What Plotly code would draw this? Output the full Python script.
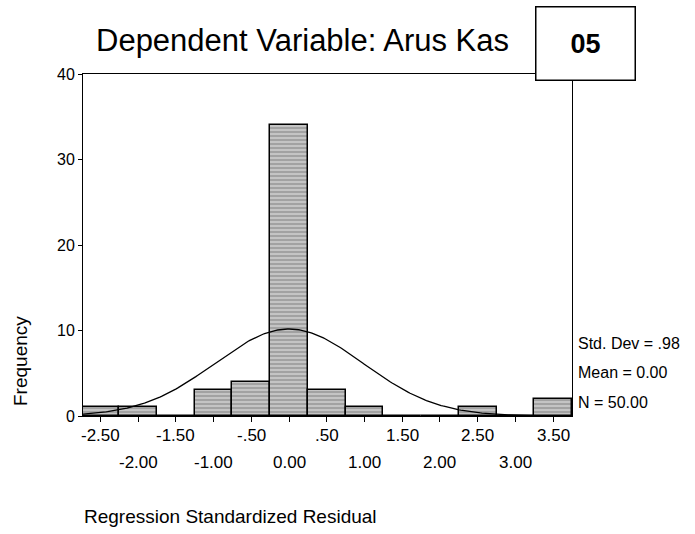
import numpy as np
import plotly.graph_objects as go

# Data
bin_centers = [-2.5, -2.0, -1.5, -1.0, -0.5, 0.0, 0.5, 1.0, 1.5, 2.0, 2.5, 3.0, 3.5]
frequencies = [1, 1, 0, 3, 4, 34, 3, 1, 0, 0, 1, 0, 2]
bin_width = 0.5
std_dev = 0.98
mean = 0.00
n_obs = 50
x_tickvals = [-2.5, -2.0, -1.5, -1.0, -0.5, 0.0, 0.5, 1.0, 1.5, 2.0, 2.5, 3.0, 3.5]
x_ticklabels = ["-2.50", "-2.00", "-1.50", "-1.00", "-.50", "0.00", ".50", "1.00",
                "1.50", "2.00", "2.50", "3.00", "3.50"]
y_tickvals = [0, 10, 20, 30, 40]
stats_lines = ["Std. Dev = .98", "Mean = 0.00", "N = 50.00"]

FONT = "Arial, Liberation Sans, sans-serif"
x_range = [-2.73, 3.75]
PH = 342  # plot height px
PW = 489  # plot width px

fig = go.Figure()
fig.add_trace(go.Bar(
    x=bin_centers, y=frequencies, width=bin_width,
    marker=dict(color="#c4c4c4", line=dict(color="black", width=1.5),
                pattern=dict(shape="-", fgcolor="#6e6e6e", size=4, solidity=0.4)),
    showlegend=False, hoverinfo="x+y"))

xc = np.linspace(x_range[0], x_range[1], 300)
yc = n_obs * bin_width / (std_dev * np.sqrt(2 * np.pi)) * np.exp(-0.5 * ((xc - mean) / std_dev) ** 2)
fig.add_trace(go.Scatter(x=xc, y=yc, mode="lines", line=dict(color="black", width=1.3),
                         showlegend=False, hoverinfo="skip"))

fig.update_layout(
    width=695, height=534,
    margin=dict(l=83, r=123, t=74, b=118),
    paper_bgcolor="white", plot_bgcolor="white",
    font=dict(family=FONT, color="black", size=16),
    bargap=0,
    xaxis=dict(range=x_range, tickvals=x_tickvals, showticklabels=False,
               ticks="outside", ticklen=5, tickcolor="black", showline=True,
               linecolor="black", linewidth=1, mirror=True, showgrid=False,
               zeroline=False),
    yaxis=dict(range=[0, 40], tickvals=y_tickvals, ticks="outside", ticklen=4,
               tickcolor="black", showline=True, linecolor="black", linewidth=1,
               mirror=True, showgrid=False, zeroline=False, tickfont=dict(size=16)),
)

# two-row x tick labels
for i, (v, t) in enumerate(zip(x_tickvals, x_ticklabels)):
    ypx = 436 if i % 2 == 0 else 463
    fig.add_annotation(text=t, xref="x", yref="paper", x=v, y=(416 - ypx) / PH,
                       xanchor="center", yanchor="middle", showarrow=False,
                       font=dict(size=17, family=FONT))

fig.add_annotation(text="Dependent Variable: Arus Kas", xref="paper", yref="paper",
                   x=(302 - 83) / PW, y=1 + (74 - 40) / PH, xanchor="center", yanchor="middle",
                   showarrow=False, font=dict(size=31, family=FONT))
fig.add_annotation(text="<b>05</b>", xref="paper", yref="paper",
                   x=(585 - 83) / PW, y=1 + (74 - 43) / PH, xanchor="center", yanchor="middle",
                   showarrow=False, font=dict(size=27, family=FONT),
                   width=96, height=70, bordercolor="black", borderwidth=1.5, bgcolor="white")
for i, line in enumerate(stats_lines):
    fig.add_annotation(text=line, xref="paper", yref="paper",
                       x=1 + 4 / PW, y=(416 - (343 + 29.5 * i)) / PH, xanchor="left",
                       yanchor="middle", showarrow=False, font=dict(size=16, family=FONT))
fig.add_annotation(text="Frequency", xref="paper", yref="paper", textangle=-90,
                   x=-63 / PW, y=(416 - 361) / PH, xanchor="center", yanchor="middle",
                   showarrow=False, font=dict(size=19, family=FONT))
fig.add_annotation(text="Regression Standardized Residual", xref="paper", yref="paper",
                   x=-1 / PW, y=-(516 - 416) / PH, xanchor="left", yanchor="middle",
                   showarrow=False, font=dict(size=19, family=FONT))

fig.write_html("out.html")
